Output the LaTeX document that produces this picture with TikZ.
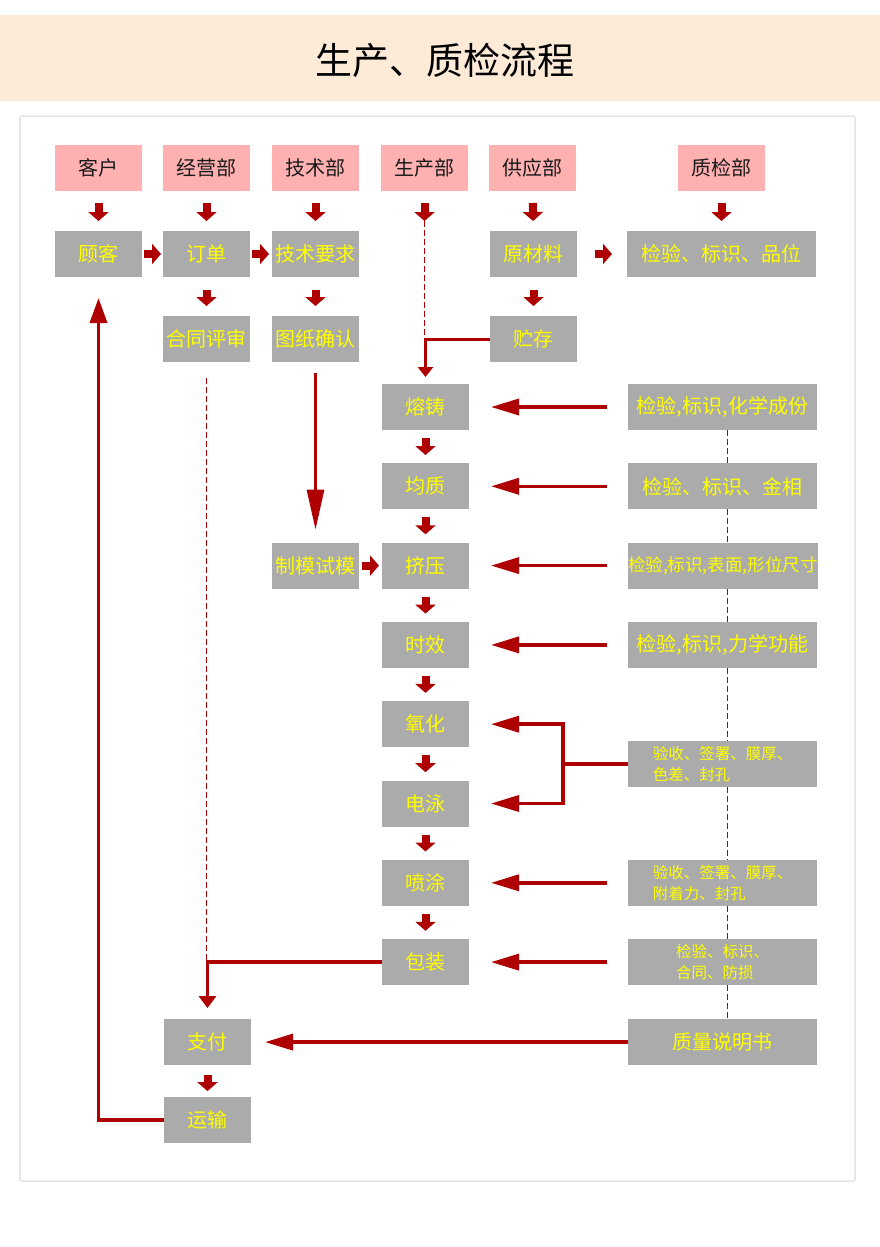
\documentclass[tikz,border=0pt]{standalone}
\usepackage{fontspec}
\setmainfont{Noto Sans CJK SC}
\usetikzlibrary{arrows.meta, positioning, calc}

\definecolor{bandpeach}{HTML}{FDEBD8}
\definecolor{framegray}{HTML}{E4E4E4}
\definecolor{headpink}{HTML}{FFB1B1}
\definecolor{boxgray}{HTML}{ABABAB}
\definecolor{flowred}{HTML}{AE0000}
\definecolor{txtyellow}{HTML}{FFFF00}

\begin{document}
\begin{tikzpicture}[
    x=1pt, y=-1pt,
    dept/.style={fill=headpink, minimum width=87pt, minimum height=46pt, inner sep=0pt,
        outer sep=0pt, font=\fontsize{20}{24}\selectfont, text=black!90},
    proc/.style={fill=boxgray, minimum width=87pt, minimum height=46pt, inner sep=0pt,
        outer sep=0pt, font=\fontsize{20}{24}\selectfont, text=txtyellow},
    qc/.style={proc, minimum width=189pt},
    qcsmall/.style={qc, align=left, font=\fontsize{15.5}{21}\selectfont},
    blk/.style={-{Triangle[length=9pt, width=20pt]}, line width=8pt, draw=flowred},
    arr/.style={-{Triangle[length=28pt, width=16pt]}, line width=3.5pt, draw=flowred},
    dashline/.style={draw=flowred, line width=1pt, dash pattern=on 6pt off 3pt},
    node distance=40pt
]
    \useasboundingbox (0,0) rectangle (880,1247);
    \fill[bandpeach] (0,15) rectangle (880,101);
    \node[font=\fontsize{37}{40}\selectfont] (title) at (445,60) {生产、质检流程};
    \draw[framegray, line width=1.5pt, rounded corners=2pt] (20,116) rectangle (855,1181);

    % departments
    \node[dept] (kehu) at (98.5,168) {客户};
    \node[dept, right=21pt of kehu] (jingying) {经营部};
    \node[dept, right=22pt of jingying] (jishu) {技术部};
    \node[dept, right=22pt of jishu] (shengchan) {生产部};
    \node[dept, right=21pt of shengchan] (gongying) {供应部};
    \node[dept, right=102pt of gongying] (zhijian) {质检部};

    \node[proc, below=of kehu] (guke) {顾客};
    \node[proc, below=of jingying] (dingdan) {订单};
    \node[proc, below=of jishu] (jsyq) {技术要求};
    \node[proc, below=of gongying, xshift=1pt] (yuancl) {原材料};
    \node[qc, below=of zhijian] (qc0) {检验、标识、品位};

    \node[proc, below=39pt of dingdan] (hetong) {合同评审};
    \node[proc, below=39pt of jsyq] (tuzhi) {图纸确认};
    \node[proc, below=39pt of yuancl] (zhucun) {贮存};

    % production line
    \node[proc] (ronzhu) at (425.5,407) {熔铸};
    \node[proc, below=33.3pt of ronzhu] (junzhi) {均质};
    \node[proc, below=33.3pt of junzhi] (jiya) {挤压};
    \node[proc, below=33.3pt of jiya] (shixiao) {时效};
    \node[proc, below=33.3pt of shixiao] (yanghua) {氧化};
    \node[proc, below=33.3pt of yanghua] (dianyong) {电泳};
    \node[proc, below=33.3pt of dianyong] (pentu) {喷涂};
    \node[proc, below=33.3pt of pentu] (baozhuang) {包装};
    \node[proc, left=23pt of jiya] (zhimo) {制模试模};

    % inspection
    \node[qc, right=159pt of ronzhu] (qc1) {检验,标识,化学成份};
    \node[qc, right=159pt of junzhi] (qc2) {检验、标识、金相};
    \node[qc, right=159pt of jiya, font=\fontsize{17.5}{24}\selectfont] (qc3) {检验,标识,表面,形位尺寸};
    \node[qc, right=159pt of shixiao] (qc4) {检验,标识,力学功能};
    \coordinate (ydmid) at ($(yanghua)!0.5!(dianyong)$);
    \node[qcsmall, right=202.5pt of ydmid] (qc5) {验收、签署、膜厚、\\色差、封孔};
    \node[qcsmall, right=159pt of pentu] (qc6) {验收、签署、膜厚、\\附着力、封孔};
    \node[qcsmall, right=159pt of baozhuang] (qc7) {检验、标识、\\合同、防损};
    \node[qc, below=34pt of qc7] (qczs) {质量说明书};

    \node[proc, left=377pt of qczs] (zhifu) {支付};
    \node[proc, below=32pt of zhifu] (yunshu) {运输};

    % short block arrows
    \foreach \a/\b in {kehu/guke, jingying/dingdan, jishu/jsyq, gongying/yuancl, zhijian/qc0}
        \draw[blk, shorten <=12pt, shorten >=10pt] (\a) -- (\b);
    \foreach \a/\b in {dingdan/hetong, jsyq/tuzhi, yuancl/zhucun}
        \draw[blk, shorten <=13pt, shorten >=10pt] (\a) -- (\b);
    \foreach \a/\b in {ronzhu/junzhi, junzhi/jiya, jiya/shixiao, shixiao/yanghua,
                       yanghua/dianyong, dianyong/pentu, pentu/baozhuang}
        \draw[blk, shorten <=8pt, shorten >=8.3pt] (\a) -- (\b);
    \draw[blk, shorten <=2pt, shorten >=2pt] (guke) -- (dingdan);
    \draw[blk, shorten <=2pt, shorten >=3pt] (dingdan) -- (jsyq);
    \draw[blk, shorten <=18pt, shorten >=15pt] (yuancl) -- (qc0);
    \draw[blk, shorten <=3pt, shorten >=3pt] (zhimo) -- (jiya);
    \draw[blk, shorten <=10pt, shorten >=6pt] (zhifu) -- (yunshu);
    \draw[blk, shorten <=12pt] (shengchan.south) -- ++(0,30) coordinate (scarr);

    % dashed guides
    \draw[dashline] (scarr) -- (shengchan |- zhucun.west);
    \draw[dashline, shorten <=16pt] (hetong.south) -- (hetong.south |- baozhuang.west);
    \coordinate (qcx) at ([xshift=4.5pt]qc1.south);
    \foreach \a/\b in {qc1/qc2, qc2/qc3, qc3/qc4, qc4/qc5, qc5/qc6, qc6/qc7, qc7/qczs}
        \draw[dashline] (\a.south -| qcx) -- (\b.north -| qcx);

    % long arrows
    \foreach \a/\b in {qc1/ronzhu, qc2/junzhi, qc3/jiya, qc4/shixiao, qc6/pentu, qc7/baozhuang}
        \draw[arr, shorten <=21pt, shorten >=22pt] (\a.west) -- (\b.east);
    \coordinate (fork) at ($(qc5.west)+(-65,0)$);
    \draw[arr, shorten >=22pt] (qc5.west) -- (fork) |- (yanghua.east);
    \draw[arr, shorten >=22pt] (fork) |- (dianyong.east);
    \draw[arr, -{Triangle[length=10pt, width=15pt]}, line width=3pt, shorten >=7pt]
        (zhucun.west) -| (ronzhu.north);
    \draw[arr, -{Triangle[length=40pt, width=17pt]}, line width=3pt,
        shorten <=11pt, shorten >=13pt] (tuzhi) -- (zhimo);
    \draw[arr, -{Triangle[length=12pt, width=17pt]}, shorten >=11pt]
        (baozhuang.west) -| (zhifu.north);
    \draw[arr, shorten >=14pt] (qczs.west) -- (zhifu.east);
    \draw[arr, -{Triangle[length=25pt, width=17pt]}, shorten >=21pt]
        (yunshu.west) -| (guke.south);
\end{tikzpicture}
\end{document}
